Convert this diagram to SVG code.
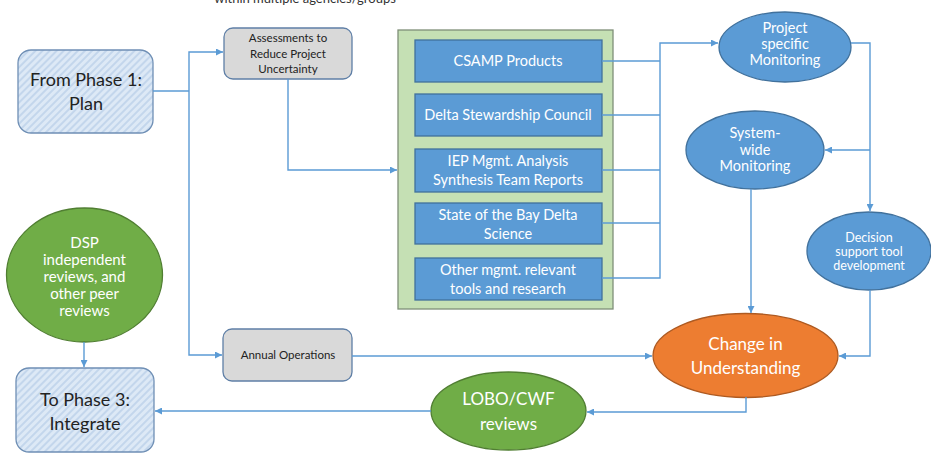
<svg xmlns="http://www.w3.org/2000/svg" width="931" height="454" viewBox="0 0 931 454">
<defs>
<pattern id="hatch" patternUnits="userSpaceOnUse" width="5" height="5" patternTransform="rotate(45)">
<rect width="5" height="5" fill="#dde9f6"/>
<rect width="2" height="5" fill="#c3d6ec"/>
</pattern>
<marker id="arr" viewBox="0 0 10 10" refX="10" refY="5" markerWidth="7" markerHeight="7" markerUnits="userSpaceOnUse" orient="auto">
<path d="M0,0 L10,5 L0,10 z" fill="#5b9bd5"/>
</marker>
</defs>
<style>
text{font-family:Lato,"Liberation Sans",sans-serif;text-anchor:middle}
.phase{fill:url(#hatch);stroke:#6f8fb5;stroke-width:1.3}
.phase-t{font-size:18px;fill:#222}
.gray{fill:#d9d9d9;stroke:#5f7fa6;stroke-width:1.3}
.gray-t{font-size:11.5px;fill:#222}
.blue{fill:#5b9bd5;stroke:#41719c;stroke-width:1.3}
.white{fill:#fff}
.green{fill:#70ad47;stroke:#507e32;stroke-width:1.3}
.orange{fill:#ed7d31;stroke:#ae5a21;stroke-width:1.3}
.cont{fill:#c5e0b4;stroke:#7f8f78;stroke-width:1.3}
.conn path{fill:none;stroke:#5b9bd5;stroke-width:1.4}
</style>
<rect width="931" height="454" fill="#fff"/>
<text x="305" y="3" style="font-size:13px;fill:#333">within multiple agencies/groups</text>

<g id="from-phase1">
<rect class="phase" x="18" y="50" width="135" height="83" rx="13"/>
<text class="phase-t" x="86" y="86">From Phase 1:</text>
<text class="phase-t" x="86" y="110">Plan</text>
</g>

<g id="assessments">
<rect class="gray" x="224" y="28" width="128" height="51" rx="9"/>
<text class="gray-t" x="288" y="42">Assessments to</text>
<text class="gray-t" x="288" y="58">Reduce Project</text>
<text class="gray-t" x="288" y="73">Uncertainty</text>
</g>

<g id="container">
<rect class="cont" x="398" y="30" width="215" height="279"/>
</g>
<g id="csamp">
<rect class="blue" x="415" y="40" width="187" height="42"/>
<text class="white" x="508" y="66" style="font-size:14.5px">CSAMP Products</text>
</g>
<g id="dsc">
<rect class="blue" x="415" y="94" width="187" height="42"/>
<text class="white" x="508" y="120" style="font-size:14.5px">Delta Stewardship Council</text>
</g>
<g id="iep">
<rect class="blue" x="415" y="149" width="187" height="43"/>
<text class="white" x="508" y="166" style="font-size:14.5px">IEP Mgmt. Analysis</text>
<text class="white" x="508" y="185" style="font-size:14.5px">Synthesis Team Reports</text>
</g>
<g id="state">
<rect class="blue" x="415" y="203" width="187" height="41"/>
<text class="white" x="508" y="220" style="font-size:14.5px">State of the Bay Delta</text>
<text class="white" x="508" y="239" style="font-size:14.5px">Science</text>
</g>
<g id="other">
<rect class="blue" x="415" y="258" width="187" height="42"/>
<text class="white" x="508" y="275" style="font-size:14.5px">Other mgmt. relevant</text>
<text class="white" x="508" y="294" style="font-size:14.5px">tools and research</text>
</g>

<g id="project-monitoring">
<ellipse class="blue" cx="785" cy="47" rx="66" ry="35"/>
<text class="white" x="785" y="33" style="font-size:14.5px">Project</text>
<text class="white" x="785" y="49" style="font-size:14.5px">specific</text>
<text class="white" x="785" y="65" style="font-size:14.5px">Monitoring</text>
</g>

<g id="system-monitoring">
<ellipse class="blue" cx="755" cy="150" rx="69" ry="39"/>
<text class="white" x="755" y="138" style="font-size:14.5px">System-</text>
<text class="white" x="755" y="155" style="font-size:14.5px">wide</text>
<text class="white" x="755" y="171" style="font-size:14.5px">Monitoring</text>
</g>

<g id="decision">
<ellipse class="blue" cx="869" cy="251" rx="62" ry="39"/>
<text class="white" x="869" y="242" style="font-size:12.5px">Decision</text>
<text class="white" x="869" y="256" style="font-size:12.5px">support tool</text>
<text class="white" x="869" y="270" style="font-size:12.5px">development</text>
</g>

<g id="dsp">
<ellipse class="green" cx="84.5" cy="275" rx="78" ry="67"/>
<text class="white" x="84.5" y="248" style="font-size:15px">DSP</text>
<text class="white" x="84.5" y="265" style="font-size:15px">independent</text>
<text class="white" x="84.5" y="282" style="font-size:15px">reviews, and</text>
<text class="white" x="84.5" y="299" style="font-size:15px">other peer</text>
<text class="white" x="84.5" y="316" style="font-size:15px">reviews</text>
</g>

<g id="annual">
<rect class="gray" x="223" y="329" width="129" height="52" rx="9"/>
<text class="gray-t" x="288" y="359">Annual Operations</text>
</g>

<g id="change">
<ellipse class="orange" cx="745.5" cy="355.5" rx="92.5" ry="42"/>
<text class="white" x="745.5" y="350" style="font-size:17px">Change in</text>
<text class="white" x="745.5" y="374" style="font-size:17px">Understanding</text>
</g>

<g id="lobo">
<ellipse class="green" cx="508.5" cy="411" rx="77.5" ry="39"/>
<text class="white" x="508.5" y="405" style="font-size:17px">LOBO/CWF</text>
<text class="white" x="508.5" y="430" style="font-size:17px">reviews</text>
</g>

<g id="to-phase3">
<rect class="phase" x="16" y="368" width="138" height="84" rx="13"/>
<text class="phase-t" x="85" y="406">To Phase 3:</text>
<text class="phase-t" x="85" y="430">Integrate</text>
</g>

<g class="conn" id="connectors">
<path d="M153,91 H189"/>
<path d="M189,91 V52 H223" marker-end="url(#arr)"/>
<path d="M189,91 V355 H222" marker-end="url(#arr)"/>
<path d="M288,79 V170 H397" marker-end="url(#arr)"/>
<path d="M602,61 H660"/>
<path d="M602,115 H660"/>
<path d="M602,170 H660"/>
<path d="M602,223 H660"/>
<path d="M602,278 H660 V43 H718" marker-end="url(#arr)"/>
<path d="M851,43 H870 V211" marker-end="url(#arr)"/>
<path d="M870,150 H825" marker-end="url(#arr)"/>
<path d="M751,189 V313" marker-end="url(#arr)"/>
<path d="M870,290 V356 H839" marker-end="url(#arr)"/>
<path d="M352,356 H652" marker-end="url(#arr)"/>
<path d="M746,397 V412 H587" marker-end="url(#arr)"/>
<path d="M431,411 H155" marker-end="url(#arr)"/>
<path d="M84,342 V367" marker-end="url(#arr)"/>
</g>
</svg>
